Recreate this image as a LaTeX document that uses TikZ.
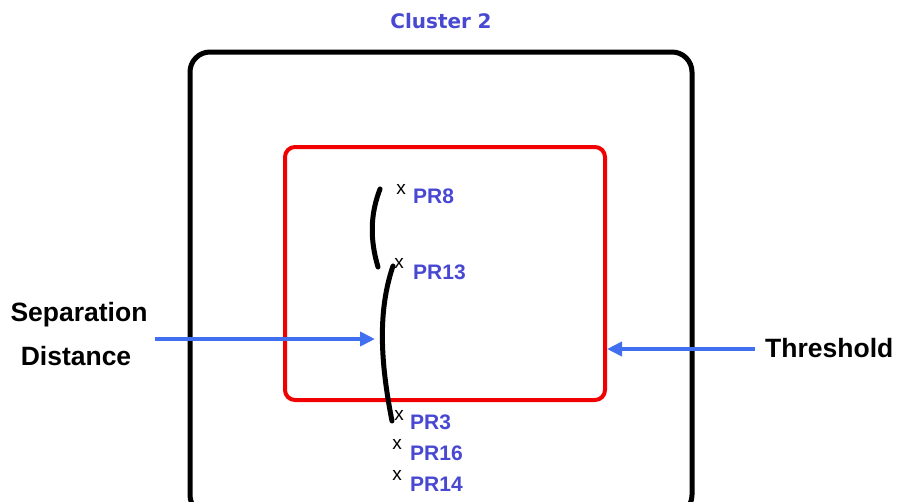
\documentclass[tikz,border=0pt]{standalone}
\usepackage{fontspec}
\setmainfont{Liberation Sans}
\newfontfamily\clusterfont{DejaVu Sans}
\usetikzlibrary{arrows.meta}
\definecolor{labelblue}{RGB}{72,72,210}
\definecolor{arrowblue}{RGB}{64,112,240}
\definecolor{boxred}{RGB}{240,0,0}
\tikzset{
  x=1pt, y=-1pt,
  outerbox/.style={draw=black, line width=5pt, rounded corners=20pt},
  innerbox/.style={draw=boxred, line width=4pt, rounded corners=10pt},
  pointer/.style={draw=arrowblue, line width=4pt, -{Triangle[length=15pt,width=14pt]}},
  gap/.style={draw=black, line width=5pt, line cap=round},
  prlabel/.style={font=\bfseries\fontsize{21}{21}\selectfont, text=labelblue, inner sep=0pt, anchor=west},
  xmark/.style={font=\fontsize{19}{19}\selectfont, inner sep=0pt},
  sidelabel/.style={font=\bfseries\fontsize{26.5}{26.5}\selectfont, inner sep=0pt, align=center}
}
\begin{document}
\begin{tikzpicture}
\useasboundingbox (0,0) rectangle (897,501);
\clip (0,0) rectangle (897,501);
\fill[white] (0,0) rectangle (897,501);

% cluster title
\node[font=\clusterfont\bfseries\fontsize{20}{20}\selectfont, text=labelblue, inner sep=0pt] (title) at (441,21) {Cluster\,\,2};

% cluster boundary and threshold region
\draw[outerbox] (190,52) rectangle (692,515);
\draw[innerbox] (285,147) rectangle (605,400);

% points and labels
\node[xmark] (x8)  at (401,189) {x};
\node[prlabel] (pr8)  at (413,196) {PR8};
\node[xmark] (x13) at (399,263) {x};
\node[prlabel] (pr13) at (413,272) {PR13};
\node[xmark] (x3)  at (399,415) {x};
\node[prlabel] (pr3)  at (410,422) {PR3};
\node[xmark] (x16) at (397,444) {x};
\node[prlabel] (pr16) at (410,453) {PR16};
\node[xmark] (x14) at (397,475) {x};
\node[prlabel] (pr14) at (410,484) {PR14};

% separation distance marks
\coordinate (a1) at (380,189);
\coordinate (a2) at (378,267);
\coordinate (b1) at (393,266);
\coordinate (b2) at (392,421);
\draw[gap] (a1) .. controls (370,215) and (370,240) .. (a2);
\draw[gap] (b1) .. controls (378,310) and (380,360) .. (b2);

% side labels and arrows
\node[sidelabel] (sep) at (79,315) {Separation};
\node[sidelabel] (dist) at (76,356) {Distance};
\node[sidelabel, anchor=west] (thr) at (765,348) {Threshold};
\coordinate (sepstart) at (155,339);
\coordinate (sepend) at (375,339);
\coordinate (thrstart) at (755,349);
\coordinate (thrend) at (607,349);
\draw[pointer] (sepstart) -- (sepend);
\draw[pointer] (thrstart) -- (thrend);
\end{tikzpicture}
\end{document}
